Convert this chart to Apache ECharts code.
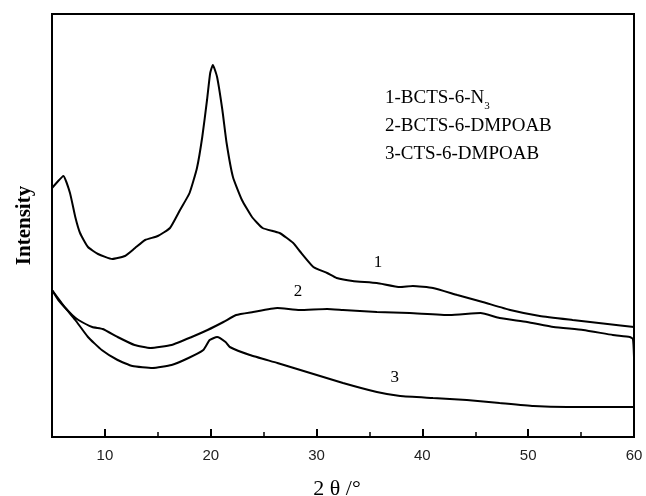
<!DOCTYPE html>
<html>
<head>
<meta charset="utf-8">
<script src="https://cdn.jsdelivr.net/npm/echarts@6/dist/echarts.min.js"></script>
<style>html,body{margin:0;padding:0;background:#fff;}#c{width:646px;height:496px;}</style>
</head>
<body>
<div id="c"></div>
<script>
// 2θ (degrees) vs intensity (arbitrary units)
const curve1 = [[5,249],[5.5,255],[6.07,261],[6.7,244],[7.2,220],[7.65,204],[8.4,190],[9.35,183],[10.7,178],[11.9,181],[12.85,189],[13.8,197],[15.0,201],[16.15,209],[17.1,227],[18.0,244],[18.7,269],[19.2,300],[19.65,337],[19.95,364],[20.2,372],[20.6,360],[21.1,327],[21.5,294],[22.1,260],[22.95,237],[23.9,220],[24.9,209],[26.5,204],[27.8,194],[28.4,186],[29.7,170],[31.0,164],[31.9,159],[33.4,156],[35.7,154],[37.9,150],[39.1,151],[41.0,149],[43.3,142],[45.7,135],[48.3,127],[51.1,121],[54.2,117],[57.5,113],[60,110]];
const curve2 = [[5,147],[5.6,137],[6.9,122],[7.5,117],[8.8,110],[9.8,108],[11.2,100],[12.8,92],[14.3,89],[16.3,92],[18.2,100],[19.7,107],[21.2,115],[22.4,122],[24.0,125],[26.3,129],[28.4,127],[31.0,128],[32.5,127],[35.7,125],[38.8,124],[42.6,122],[45.5,124],[47.3,119],[49.9,115],[52.4,110],[55.2,107],[58.0,102],[59.6,100],[59.9,98],[60,80]];
const curve3 = [[5,147],[6.2,130],[7.2,117],[8.4,100],[9.7,87],[11.2,77],[12.6,71],[14.5,69],[16.3,72],[17.9,79],[19.3,87],[19.9,97],[20.6,100],[21.4,95],[21.8,90],[23.7,82],[26.3,74],[29.4,64],[32.5,54],[35.7,45],[37.9,41],[41.0,39],[44.2,37],[47.3,34],[50.5,31],[53.7,30],[56.8,30],[60,30]];
const curveLabels = [{name:'1', coord:[35.8,174]},{name:'2', coord:[28.25,145]},{name:'3', coord:[37.4,59]}];
const majorTicks = [10,20,30,40,50,60];
const legendLines = ['1-BCTS-6-N{sub|3}','2-BCTS-6-DMPOAB','3-CTS-6-DMPOAB'];
const xName = '2 θ /°';
const yName = 'Intensity';

const serif = '"Liberation Serif","DejaVu Serif",serif';
const chart = echarts.init(document.getElementById('c'), null, {renderer:'canvas'});
function lineSeries(data, idx){
  return {
    type:'line', data:data, showSymbol:false, smooth:0.15,
    lineStyle:{color:'#000', width:2}, silent:true, animation:false,
    markPoint: {
      symbol:'circle', symbolSize:0, silent:true, animation:false,
      label:{show:true, formatter:'{b}', color:'#000', fontFamily:serif, fontSize:17},
      data:[{name:curveLabels[idx].name, coord:curveLabels[idx].coord}]
    }
  };
}
chart.setOption({
  animation:false,
  grid:{left:52, right:12, top:14, bottom:59, containLabel:false, outerBoundsMode:'none', show:true, borderColor:'#000', borderWidth:2, backgroundColor:'transparent'},
  xAxis:[{
    type:'value', min:5, max:60, position:'bottom',
    name:xName, nameLocation:'middle', nameGap:41,
    nameTextStyle:{fontFamily:serif, fontSize:22, color:'#000', padding:[0,12,0,0]},
    axisLine:{show:true, lineStyle:{color:'#000', width:2}},
    axisTick:{show:true, inside:true, length:8, customValues:majorTicks, lineStyle:{color:'#000', width:2}},
    axisLabel:{show:true, customValues:majorTicks, color:'#222', fontSize:15, fontFamily:'"Liberation Sans",Arial,sans-serif', margin:11},
    splitLine:{show:false}
  },{
    type:'value', min:5, max:60, interval:5, position:'bottom', gridIndex:0,
    axisLine:{show:false},
    axisTick:{show:true, inside:true, length:5, lineStyle:{color:'#000', width:1.5}},
    axisLabel:{show:false}, splitLine:{show:false}
  }],
  yAxis:{
    type:'value', min:0, max:423,
    name:yName, nameLocation:'middle', nameGap:17, nameRotate:90,
    nameTextStyle:{fontFamily:serif, fontSize:21, fontWeight:'bold', color:'#000'},
    axisLine:{show:true, lineStyle:{color:'#000', width:2}},
    axisTick:{show:false}, axisLabel:{show:false}, splitLine:{show:false}
  },
  graphic:[{
    type:'text', left:385, top:84,
    style:{
      text: legendLines.join('\n'),
      fontFamily:serif, fontSize:19, lineHeight:28, fill:'#000',
      rich:{sub:{fontFamily:serif, fontSize:11, verticalAlign:'bottom', padding:[10,0,0,0]}}
    }
  }],
  series:[lineSeries(curve1,0), lineSeries(curve2,1), lineSeries(curve3,2)]
});
</script>
</body>
</html>
